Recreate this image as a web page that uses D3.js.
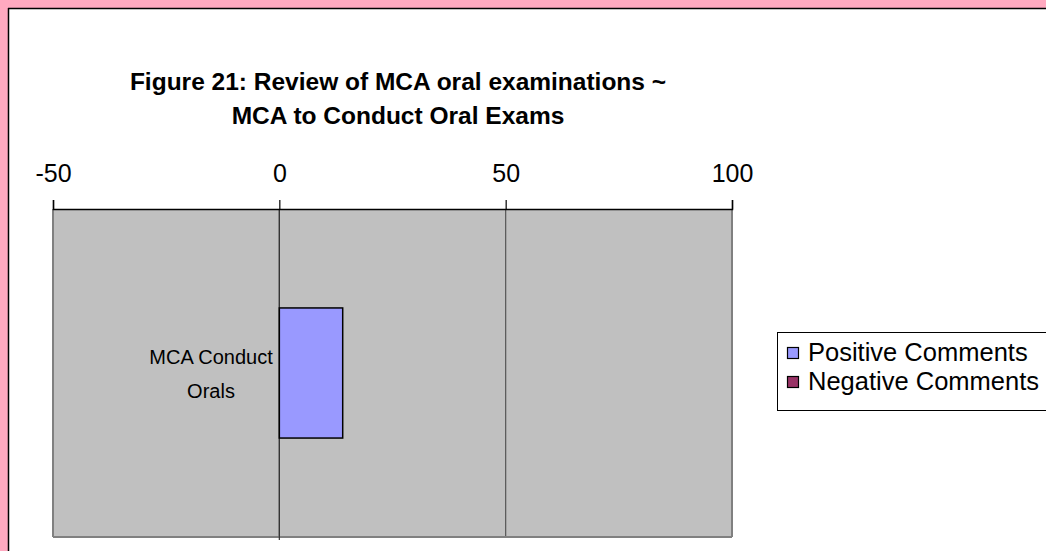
<!DOCTYPE html>
<html>
<head>
<meta charset="utf-8">
<script src="https://cdn.jsdelivr.net/npm/d3@7"></script>
<style>
  body { margin: 0; background: #ffffff; }
  svg { display: block; font-family: Arial, "Liberation Sans", sans-serif; }
</style>
</head>
<body>
<div id="chart"></div>
<script>
var width  = 1046;
var height = 551;

var categories   = ["MCA Conduct Orals"];
var positiveVals = [14];
var negativeVals = [0];
var seriesNames  = ["Positive Comments", "Negative Comments"];
var seriesColors = ["#9999ff", "#993366"];
var tickValues   = [-50, 0, 50, 100];

var svg = d3.select("#chart").append("svg")
    .attr("width", width)
    .attr("height", height);

// pink frame and white panel
svg.append("rect").attr("x", 0).attr("y", 0).attr("width", width).attr("height", height)
   .attr("fill", "#ffa9c0");
svg.append("rect").attr("x", 8).attr("y", 8).attr("width", width - 8).attr("height", height - 8)
   .attr("fill", "#ffffff");
svg.append("line").attr("x1", 8.5).attr("y1", 8).attr("x2", 8.5).attr("y2", height)
   .attr("stroke", "#000").attr("stroke-width", 1.5);
svg.append("line").attr("x1", 8).attr("y1", 8.5).attr("x2", width).attr("y2", 8.5)
   .attr("stroke", "#000").attr("stroke-width", 1.5);

// title
var title = svg.append("text")
    .attr("text-anchor", "middle")
    .attr("font-weight", "bold")
    .attr("font-size", 24.5);
title.append("tspan").attr("x", 398).attr("y", 90).text("Figure 21: Review of MCA oral examinations ~");
title.append("tspan").attr("x", 398).attr("y", 124).text("MCA to Conduct Oral Exams");

var plot = { left: 53, top: 209, right: 732, bottom: 537 };

var x = d3.scaleLinear().domain([-50, 100]).range([plot.left, plot.right]);
var y = d3.scaleBand().domain(categories).range([plot.top, plot.bottom]).padding(0.432);

svg.append("rect")
   .attr("x", plot.left).attr("y", plot.top)
   .attr("width", plot.right - plot.left).attr("height", plot.bottom - plot.top)
   .attr("fill", "#c0c0c0");

// grid lines
svg.selectAll(".grid").data(tickValues.slice(1, -1))
   .enter().append("line")
   .attr("x1", function(d) { return x(d); })
   .attr("x2", function(d) { return x(d); })
   .attr("y1", plot.top).attr("y2", plot.bottom)
   .attr("stroke", "#555").attr("stroke-width", 1.2);

// plot border
svg.append("line").attr("x1", plot.left).attr("x2", plot.left).attr("y1", plot.top).attr("y2", plot.bottom)
   .attr("stroke", "#808080").attr("stroke-width", 2);
svg.append("line").attr("x1", plot.left).attr("x2", plot.right).attr("y1", plot.bottom).attr("y2", plot.bottom)
   .attr("stroke", "#808080").attr("stroke-width", 2);
svg.append("line").attr("x1", plot.right).attr("x2", plot.right).attr("y1", plot.top).attr("y2", plot.bottom)
   .attr("stroke", "#808080").attr("stroke-width", 2);

// category axis at zero
svg.append("line").attr("x1", x(0)).attr("x2", x(0)).attr("y1", plot.top).attr("y2", plot.bottom + 3)
   .attr("stroke", "#333").attr("stroke-width", 1.2);

// top value axis
var axis = svg.append("g")
    .attr("transform", "translate(0," + plot.top + ")")
    .call(d3.axisTop(x).tickValues(tickValues).tickSize(9).tickPadding(18)
            .tickFormat(function(d) { return String(d); }));
axis.select(".domain").attr("stroke", "#000").attr("stroke-width", 1.5);
axis.selectAll(".tick line").attr("stroke", "#000").attr("stroke-width", 1.2);
axis.selectAll(".tick text")
    .attr("font-size", 25)
    .attr("font-family", "Arial, 'Liberation Sans', sans-serif")
    .attr("fill", "#000");

// bars
svg.selectAll(".pos").data(categories)
   .enter().append("rect")
   .attr("x", function(d, i) { return x(Math.min(0, positiveVals[i])); })
   .attr("y", function(d) { return y(d); })
   .attr("width", function(d, i) { return Math.abs(x(positiveVals[i]) - x(0)); })
   .attr("height", y.bandwidth())
   .attr("fill", seriesColors[0])
   .attr("stroke", "#000").attr("stroke-width", 1.5);

svg.selectAll(".neg").data(categories)
   .enter().append("rect")
   .attr("x", function(d, i) { return x(Math.min(0, negativeVals[i])); })
   .attr("y", function(d) { return y(d); })
   .attr("width", function(d, i) { return Math.abs(x(negativeVals[i]) - x(0)); })
   .attr("height", y.bandwidth())
   .attr("fill", seriesColors[1])
   .attr("stroke", "none");

// category label
var cy = y(categories[0]) + y.bandwidth() / 2;
var cat = svg.append("text")
    .attr("text-anchor", "middle")
    .attr("font-size", 20);
cat.append("tspan").attr("x", 211).attr("y", cy - 9).text("MCA Conduct");
cat.append("tspan").attr("x", 211).attr("y", cy + 25).text("Orals");

// legend
var legend = svg.append("g");
legend.append("rect")
   .attr("x", 777.5).attr("y", 332.5).attr("width", 280).attr("height", 78)
   .attr("fill", "#fff").attr("stroke", "#000").attr("stroke-width", 1);
seriesNames.forEach(function(name, i) {
  var ly = 353 + i * 29;
  legend.append("rect")
     .attr("x", 787.5).attr("y", ly - 5.5).attr("width", 11).attr("height", 11)
     .attr("fill", seriesColors[i]).attr("stroke", "#000").attr("stroke-width", 1.2);
  legend.append("text")
     .attr("x", 808).attr("y", ly + 8)
     .attr("font-size", 25.5)
     .text(name);
});
</script>
</body>
</html>
